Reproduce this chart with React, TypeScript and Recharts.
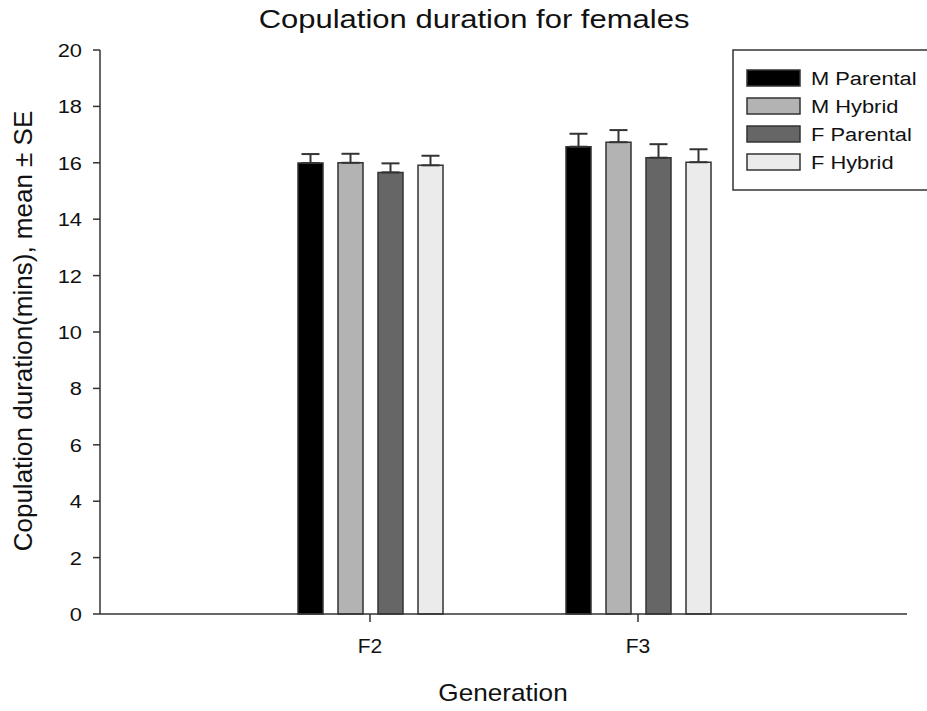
import React from "react";
import { BarChart, Bar, XAxis, YAxis, ErrorBar } from "recharts";

const generations = ["F2", "F3"];
const seriesNames = ["M Parental", "M Hybrid", "F Parental", "F Hybrid"];
const seriesColors = ["#000000", "#b3b3b3", "#666666", "#ebebeb"];

const mParental = [15.99, 16.57];
const mHybrid = [16.0, 16.73];
const fParental = [15.66, 16.18];
const fHybrid = [15.91, 16.02];

const mParentalSE = [0.32, 0.46];
const mHybridSE = [0.32, 0.43];
const fParentalSE = [0.32, 0.48];
const fHybridSE = [0.34, 0.46];

const yTicks = [0, 2, 4, 6, 8, 10, 12, 14, 16, 18, 20];

const FONT = '"Liberation Sans", Arial, Helvetica, sans-serif';
const INK = "#111111";
const LINE = "#333333";

const data = generations.map((g, i) => ({
  gen: g,
  mp: mParental[i],
  mh: mHybrid[i],
  fp: fParental[i],
  fh: fHybrid[i],
  mpErr: [0, mParentalSE[i]],
  mhErr: [0, mHybridSE[i]],
  fpErr: [0, fParentalSE[i]],
  fhErr: [0, fHybridSE[i]],
}));

const keys = ["mp", "mh", "fp", "fh"];

// text stretched sideways like the source image
function StretchText({ x, y, text, size, sx = 1, anchor = "middle", rotate = 0 }: any) {
  const tf = rotate
    ? `translate(${x},${y}) rotate(${rotate}) scale(${sx},1)`
    : `translate(${x},${y}) scale(${sx},1)`;
  return (
    <text transform={tf} textAnchor={anchor} fontSize={size} fontFamily={FONT} fill={INK}>
      {text}
    </text>
  );
}

function YTick(props: any) {
  const { x, y, payload } = props;
  return <StretchText x={x} y={y + 7} text={payload.value} size={19} sx={1.15} anchor="end" />;
}

function XTick(props: any) {
  const { x, y, payload } = props;
  return <StretchText x={x} y={y + 29} text={payload.value} size={21} sx={1} />;
}

export default function App() {
  return (
    <div
      style={{
        position: "fixed",
        left: 0,
        top: 0,
        width: 927,
        height: 711,
        background: "#fff",
        overflow: "hidden",
      }}
    >
      <BarChart
        width={927}
        height={711}
        data={data}
        margin={{ top: 50, right: 20, bottom: 37, left: 0 }}
        barSize={25}
        barGap={15}
      >
        <XAxis
          dataKey="gen"
          height={60}
          padding={{ left: 136, right: 135 }}
          tickSize={8}
          tickMargin={2}
          tick={<XTick />}
          axisLine={{ stroke: LINE, strokeWidth: 1.5 }}
          tickLine={{ stroke: LINE, strokeWidth: 1.5 }}
        />
        <XAxis
          xAxisId="top"
          orientation="top"
          dataKey="gen"
          height={0}
          tick={false}
          tickLine={false}
          axisLine={{ stroke: LINE, strokeWidth: 1.5 }}
        />
        <YAxis
          width={100}
          domain={[0, 20]}
          ticks={yTicks}
          interval={0}
          tickSize={7}
          tickMargin={11}
          tick={<YTick />}
          axisLine={{ stroke: LINE, strokeWidth: 1.5 }}
          tickLine={{ stroke: LINE, strokeWidth: 1.5 }}
        />
        <YAxis
          yAxisId="right"
          orientation="right"
          width={0}
          domain={[0, 20]}
          tick={false}
          tickLine={false}
          axisLine={{ stroke: LINE, strokeWidth: 1.5 }}
        />
        {keys.map((k, i) => (
          <Bar
            key={k}
            dataKey={k}
            name={seriesNames[i]}
            fill={seriesColors[i]}
            stroke={LINE}
            strokeWidth={1.5}
            isAnimationActive={false}
          >
            <ErrorBar
              dataKey={k + "Err"}
              direction="y"
              width={9}
              stroke={LINE}
              strokeWidth={2}
              isAnimationActive={false}
            />
          </Bar>
        ))}
      </BarChart>

      <svg
        width={927}
        height={711}
        style={{ position: "absolute", left: 0, top: 0, pointerEvents: "none" }}
      >
        <StretchText x={474} y={28} text="Copulation duration for females" size={25} sx={1.24} />
        <StretchText x={503} y={701} text="Generation" size={24} sx={1.09} />
        <StretchText
          x={32}
          y={331}
          text="Copulation duration(mins), mean ± SE"
          size={26}
          rotate={-90}
        />

        {/* legend */}
        <rect x={733} y={50} width={240} height={140} fill="#fff" stroke={LINE} strokeWidth={1.5} />
        {seriesNames.map((name, i) => {
          const cy = 78 + i * 28;
          return (
            <g key={name}>
              <rect
                x={747}
                y={cy - 8}
                width={53}
                height={16}
                fill={seriesColors[i]}
                stroke={LINE}
                strokeWidth={1.5}
              />
              <StretchText x={811} y={cy + 7} text={name} size={19} sx={1.15} anchor="start" />
            </g>
          );
        })}
      </svg>
    </div>
  );
}
